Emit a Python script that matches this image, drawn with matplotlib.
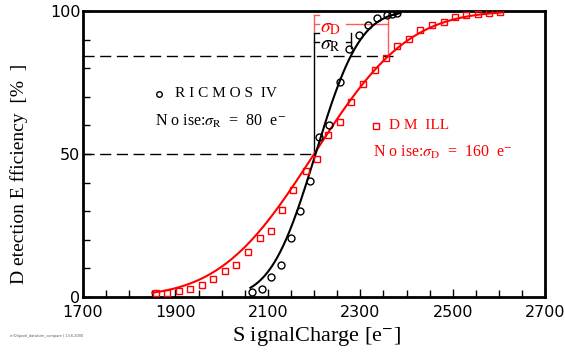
import math
import matplotlib
matplotlib.use('Agg')
import matplotlib.pyplot as plt

# measured points, RICMOS IV (black circles)
ricmos_charge = [2066, 2087, 2107, 2129, 2149, 2170, 2190, 2211, 2233, 2255,
                 2276, 2296, 2316, 2337, 2357, 2368, 2379]
ricmos_eff = [1.7, 2.9, 6.9, 11.2, 20.6, 30.2, 40.5, 55.8, 60.2, 75.1,
              86.6, 91.5, 95.1, 97.7, 98.6, 98.9, 99.3]

# measured points, DMILL (red squares)
dmill_charge = [1857, 1882, 1907, 1932, 1957, 1981, 2007, 2031, 2056, 2082,
                2106, 2131, 2155, 2182, 2206, 2231, 2255, 2280, 2305, 2331,
                2356, 2380, 2406, 2430, 2455, 2480, 2505, 2529, 2554, 2578, 2603]
dmill_eff = [1.3, 1.2, 2.2, 2.7, 4.3, 6.4, 9.1, 11.1, 15.8, 20.5,
             23.2, 30.3, 37.3, 44.1, 48.3, 56.6, 61.1, 68.2, 74.3, 79.3,
             83.7, 87.6, 90.1, 93.2, 95.1, 96.2, 97.8, 98.7, 98.8, 99.4, 99.5]

# fit parameters (error function)
threshold = 2200
sigma_r = 80
sigma_d = 160
ricmos_fit_range = (2062, 2385)
dmill_fit_range = (1850, 2605)


def erf_curve(lo, hi, mu, sigma, n=200):
    xs = [lo + (hi - lo) * i / (n - 1) for i in range(n)]
    ys = [50 * (1 + math.erf((x - mu) / (sigma * math.sqrt(2)))) for x in xs]
    return xs, ys


serif = 'Liberation Serif'
plt.rcParams['mathtext.fontset'] = 'stix'

fig = plt.figure(figsize=(5.65, 3.53), dpi=100)
ax = fig.add_axes([0.147, 0.159, 0.818, 0.810])

# fit curves
x_fit, y_fit = erf_curve(*dmill_fit_range, threshold, sigma_d)
ax.plot(x_fit, y_fit, color='red', lw=1.5, zorder=3)
x_fit, y_fit = erf_curve(*ricmos_fit_range, threshold + 3, sigma_r * 0.95)
ax.plot(x_fit, y_fit, color='black', lw=1.5, zorder=3)

# data points
ax.plot(dmill_charge, dmill_eff, 's', ms=5, mfc='none', mec='red', mew=1, zorder=4)
ax.plot(ricmos_charge, ricmos_eff, 'o', ms=5, mfc='none', mec='black', mew=1, zorder=4)

# guide lines
ax.plot([1700, threshold], [50, 50], color='black', lw=1, ls=(0, (8, 4)))
ax.plot([1700, threshold + 170], [84.1, 84.1], color='black', lw=1, ls=(0, (8, 4)))
ax.plot([threshold, threshold], [50, 92.3], color='black', lw=1)

# sigma_R bracket
ax.plot([threshold, threshold + 10], [89, 89], color='black', lw=1)
ax.plot([threshold + 70, threshold + sigma_r], [89, 89], color='black', lw=1)
ax.plot([threshold + sigma_r] * 2, [87, 92.3], color='black', lw=1)
ax.plot([threshold, threshold + 10], [92.3, 92.3], color='black', lw=1)
ax.text(threshold + 12, 88.3, r'$\sigma_{\rm R}$', fontsize=14, va='center', ha='left')

# sigma_D bracket
red_light = '#ff5a5a'
ax.plot([threshold, threshold], [92.7, 98.6], color=red_light, lw=1)
ax.plot([threshold, threshold + 10], [98.6, 98.6], color=red_light, lw=1)
ax.plot([threshold, threshold + 10], [95.3, 95.3], color=red_light, lw=1)
ax.plot([threshold + 70, threshold + sigma_d], [95.3, 95.3], color=red_light, lw=1)
ax.plot([threshold + sigma_d] * 2, [84.1, 98.6], color=red_light, lw=1)
ax.text(threshold + 12, 94.3, r'$\sigma_{\rm D}$', fontsize=14, color='red', va='center', ha='left')

# legend-like labels
ax.plot([1865], [71], 'o', ms=4, mfc='none', mec='black', mew=1)
ax.text(1898, 71, 'R I C M O S  IV', fontsize=11, family=serif, va='center')
ax.text(1855, 61.5, r'N o ise:$\sigma_{\rm R}$  =  80  e$^{-}$', fontsize=11.5, family=serif,
        va='center')
ax.plot([2333], [59.8], 's', ms=4, mfc='none', mec='red', mew=1)
ax.text(2362, 59.8, 'D M  ILL', fontsize=11, family=serif, color='red', va='center')
ax.text(2328, 50.5, r'N o ise:$\sigma_{\rm D}$  =  160  e$^{-}$', fontsize=11.5, family=serif,
        color='red', va='center')

# axes
ax.set_xlim(1700, 2700)
ax.set_ylim(0, 100)
ax.set_xticks(range(1700, 2701, 200))
ax.set_xticks(range(1700, 2701, 50), minor=True)
ax.set_yticks([0, 50, 100])
ax.set_yticks(range(0, 101, 10), minor=True)
ax.tick_params(which='both', direction='in', top=False, right=False, width=1)
ax.tick_params(which='major', length=6, labelsize=11.5)
ax.tick_params(which='minor', length=5)
ax.tick_params(axis='x', which='major', pad=6)
ax.tick_params(axis='y', which='major', pad=2)
for sp in ax.spines.values():
    sp.set_linewidth(2)

ax.set_xlabel('S ignalCharge [e$^{-}$]', fontsize=16, family=serif)
ax.set_ylabel('D etection E fficiency  [%  ]', fontsize=14, family=serif)
ax.xaxis.set_label_coords(0.505, -0.1)
ax.yaxis.set_label_coords(-0.12, 0.43)

fig.text(0.018, 0.045, 'e:\\0i\\pixel_data\\sim_compare | 13.6.2000', fontsize=2.5, color='#555555')

fig.savefig('out.png', dpi=100)
